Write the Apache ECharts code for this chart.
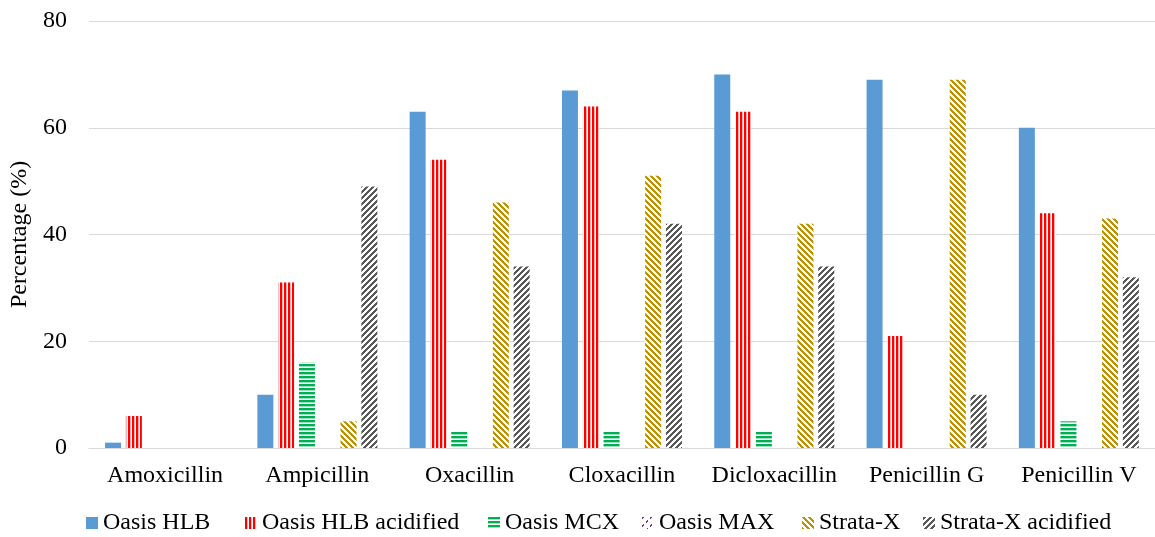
<!DOCTYPE html>
<html><head><meta charset="utf-8">
<script src="https://cdn.jsdelivr.net/npm/echarts@6/dist/echarts.min.js"></script>
<style>html,body{margin:0;padding:0;background:#fff}#c{width:1155px;height:537px}</style>
</head><body><div id="c"></div>
<script>
const categories = ['Amoxicillin','Ampicillin','Oxacillin','Cloxacillin','Dicloxacillin','Penicillin G','Penicillin V'];
const seriesNames = ['Oasis HLB','Oasis HLB acidified','Oasis MCX','Oasis MAX','Strata-X','Strata-X acidified'];
const oasisHLB     = [1, 10, 63, 67, 70, 69, 60];
const oasisHLBAcid = [6, 31, 54, 64, 63, 21, 44];
const oasisMCX     = [0, 16, 3, 3, 3, 0, 5];
const oasisMAX     = [0, 0, 0, 0, 0, 0, 0];
const strataX      = [0, 5, 46, 51, 42, 69, 43];
const strataXAcid  = [0, 49, 34, 42, 34, 10, 32];
const yTicks = [0, 20, 40, 60, 80];

const FONT = '"Liberation Serif","Times New Roman",serif';

function makePattern(size, colorAt) {
  const cv = document.createElement('canvas');
  cv.width = size; cv.height = size;
  const ctx = cv.getContext('2d');
  ctx.fillStyle = '#ffffff';
  ctx.fillRect(0, 0, size, size);
  for (let y = 0; y < size; y++) {
    for (let x = 0; x < size; x++) {
      const c = colorAt(x, y);
      if (c) { ctx.fillStyle = c; ctx.fillRect(x, y, 1, 1); }
    }
  }
  return { image: cv, repeat: 'repeat' };
}

const fills = [
  '#5B9BD5',
  makePattern(4, (x) => x < 2 ? '#FF0000' : (x === 2 ? '#FFB3B3' : null)),
  makePattern(4, (x, y) => y < 2 ? '#00B050' : (y === 2 ? '#9FE0BF' : null)),
  makePattern(8, (x, y) => (((x + y) % 8) < 2 && (x % 4) < 2) ? '#7030A0' : null),
  makePattern(6, (x, y) => (((x - y) % 6) + 6) % 6 < 3 ? '#BF9000' : null),
  makePattern(6, (x, y) => ((x + y) % 6) < 3 ? '#595959' : null)
];
const dataSets = [oasisHLB, oasisHLBAcid, oasisMCX, oasisMAX, strataX, strataXAcid];

const legendLeft = [86, 245, 488, 642, 802, 923];

const chart = echarts.init(document.getElementById('c'), null, { renderer: 'canvas' });
chart.setOption({
  animation: false,
  backgroundColor: '#ffffff',
  textStyle: { fontFamily: FONT },
  grid: { left: 88, top: 21, width: 1076, height: 427, containLabel: false },
  legend: seriesNames.map((n, i) => ({
    data: [n],
    left: legendLeft[i],
    top: 511,
    padding: 0,
    itemWidth: 12,
    itemHeight: 12,
    icon: 'rect',
    textStyle: { fontFamily: FONT, fontSize: 24, color: '#000' }
  })),
  xAxis: {
    type: 'category',
    data: categories,
    axisLine: { show: true, lineStyle: { color: '#D9D9D9', width: 1 } },
    axisTick: { show: false },
    axisLabel: { fontFamily: FONT, fontSize: 24, color: '#000', margin: 16, interval: 0 }
  },
  yAxis: {
    type: 'value',
    min: yTicks[0],
    max: yTicks[yTicks.length - 1],
    interval: yTicks[1] - yTicks[0],
    name: 'Percentage (%)',
    nameLocation: 'middle',
    nameGap: 55,
    nameTextStyle: { fontFamily: FONT, fontSize: 24, color: '#000' },
    axisLine: { show: false },
    axisTick: { show: false },
    axisLabel: { fontFamily: FONT, fontSize: 24, color: '#000', margin: 22 },
    splitLine: { lineStyle: { color: '#D9D9D9', width: 1 } }
  },
  series: seriesNames.map((n, i) => ({
    name: n,
    type: 'bar',
    data: dataSets[i],
    barWidth: 16,
    barGap: '30%',
    itemStyle: { color: fills[i] }
  }))
});
</script>
</body></html>
